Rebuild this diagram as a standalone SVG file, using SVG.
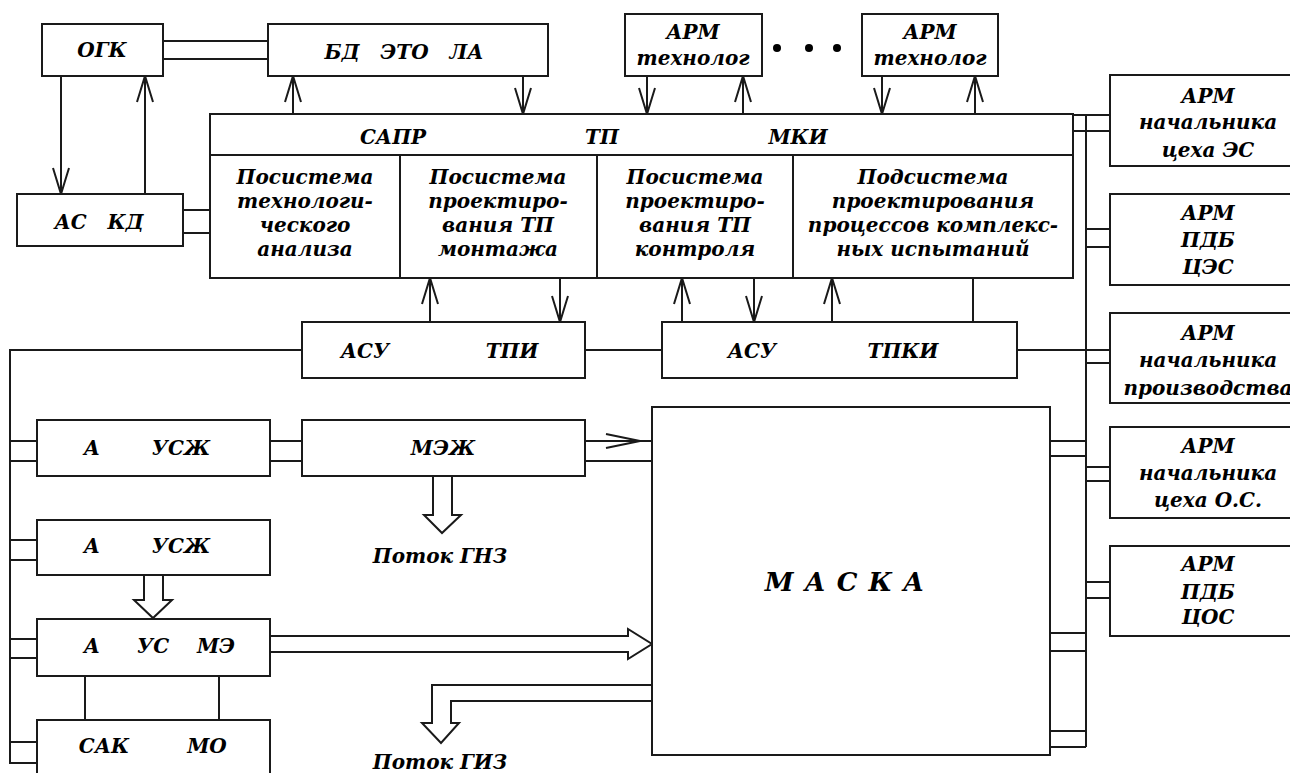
<svg xmlns="http://www.w3.org/2000/svg" width="1290" height="773" viewBox="0 0 1290 773">
<style>
.b{fill:#fff;stroke:#1a1a1a;stroke-width:2}
.l{fill:none;stroke:#1a1a1a;stroke-width:2}
.t{font-family:"DejaVu Serif","Liberation Serif",serif;font-weight:bold;font-style:italic;font-size:20px;fill:#000;text-anchor:middle}
.big{font-size:26px;letter-spacing:11px}
</style>
<defs>
<marker id="ah" markerUnits="userSpaceOnUse" markerWidth="40" markerHeight="30" viewBox="-30 -15 40 30" refX="0" refY="0" orient="auto" overflow="visible">
<path d="M-26,-8 L0,0 L-26,8" fill="none" stroke="#1a1a1a" stroke-width="2"/>
</marker>
</defs>
<rect width="1290" height="773" fill="#fff"/>
<g id="connectors">
<line class="l" x1="163" y1="41" x2="268" y2="41"/>
<line class="l" x1="163" y1="59" x2="268" y2="59"/>
<line class="l" x1="61" y1="76" x2="61" y2="194" marker-end="url(#ah)"/>
<line class="l" x1="145" y1="194" x2="145" y2="76" marker-end="url(#ah)"/>
<line class="l" x1="183" y1="210" x2="210" y2="210"/>
<line class="l" x1="183" y1="233" x2="210" y2="233"/>
<line class="l" x1="293" y1="114" x2="293" y2="76" marker-end="url(#ah)"/>
<line class="l" x1="523" y1="76" x2="523" y2="114" marker-end="url(#ah)"/>
<line class="l" x1="647" y1="76" x2="647" y2="114" marker-end="url(#ah)"/>
<line class="l" x1="743" y1="114" x2="743" y2="76" marker-end="url(#ah)"/>
<line class="l" x1="882" y1="76" x2="882" y2="114" marker-end="url(#ah)"/>
<line class="l" x1="975" y1="114" x2="975" y2="76" marker-end="url(#ah)"/>
<line class="l" x1="430" y1="322" x2="430" y2="278" marker-end="url(#ah)"/>
<line class="l" x1="560" y1="278" x2="560" y2="322" marker-end="url(#ah)"/>
<line class="l" x1="682" y1="322" x2="682" y2="278" marker-end="url(#ah)"/>
<line class="l" x1="754" y1="278" x2="754" y2="322" marker-end="url(#ah)"/>
<line class="l" x1="832" y1="322" x2="832" y2="278" marker-end="url(#ah)"/>
<line class="l" x1="973" y1="278" x2="973" y2="322"/>
<line class="l" x1="585" y1="350" x2="662" y2="350"/>
<polyline class="l" points="302,350 10,350 10,763 37,763"/>
<line class="l" x1="10" y1="441" x2="37" y2="441"/>
<line class="l" x1="10" y1="461" x2="37" y2="461"/>
<line class="l" x1="10" y1="540" x2="37" y2="540"/>
<line class="l" x1="10" y1="560" x2="37" y2="560"/>
<line class="l" x1="10" y1="639" x2="37" y2="639"/>
<line class="l" x1="10" y1="658" x2="37" y2="658"/>
<line class="l" x1="10" y1="742" x2="37" y2="742"/>
<line class="l" x1="270" y1="441" x2="302" y2="441"/>
<line class="l" x1="270" y1="461" x2="302" y2="461"/>
<line class="l" x1="585" y1="441" x2="652" y2="441"/>
<line class="l" x1="585" y1="461" x2="652" y2="461"/>
<polyline class="l" points="606,434 640,441 606,448"/>
<path class="l" d="M433,476 V515 H424 L442,533 L461,515 H452 V476"/>
<path class="l" d="M144,575 V600 H134 L153,618 L172,600 H163 V575"/>
<path class="l" d="M270,636 H628 V629 L652,644 L628,659 V652 H270"/>
<path class="l" d="M652,685 H432 V723 H422 L441,743 L459,723 H451 V701 H652"/>
<line class="l" x1="85" y1="676" x2="85" y2="720"/>
<line class="l" x1="219" y1="676" x2="219" y2="720"/>
<line class="l" x1="1086" y1="115" x2="1086" y2="747"/>
<line class="l" x1="1073" y1="115" x2="1110" y2="115"/>
<line class="l" x1="1073" y1="131" x2="1110" y2="131"/>
<line class="l" x1="1086" y1="229" x2="1110" y2="229"/>
<line class="l" x1="1086" y1="247" x2="1110" y2="247"/>
<line class="l" x1="1017" y1="350" x2="1110" y2="350"/>
<line class="l" x1="1086" y1="363" x2="1110" y2="363"/>
<line class="l" x1="1050" y1="441" x2="1086" y2="441"/>
<line class="l" x1="1050" y1="456" x2="1086" y2="456"/>
<line class="l" x1="1086" y1="467" x2="1110" y2="467"/>
<line class="l" x1="1086" y1="481" x2="1110" y2="481"/>
<line class="l" x1="1086" y1="582" x2="1110" y2="582"/>
<line class="l" x1="1086" y1="598" x2="1110" y2="598"/>
<line class="l" x1="1050" y1="633" x2="1086" y2="633"/>
<line class="l" x1="1050" y1="651" x2="1086" y2="651"/>
<line class="l" x1="1050" y1="731" x2="1086" y2="731"/>
<line class="l" x1="1050" y1="747" x2="1086" y2="747"/>
</g>
<g id="ogk"><rect class="b" x="42" y="24" width="121" height="52"/><text class="t" x="102" y="57">ОГК</text></g>
<g id="bd"><rect class="b" x="268" y="24" width="280" height="52"/><text class="t" x="404" y="59" xml:space="preserve">БД   ЭТО   ЛА</text></g>
<g id="askd"><rect class="b" x="17" y="194" width="166" height="52"/><text class="t" x="99" y="229" xml:space="preserve">АС   КД</text></g>
<g id="arm-tech1"><rect class="b" x="625" y="14" width="137" height="62"/><text class="t" x="693" y="39">АРМ</text><text class="t" x="693" y="65">технолог</text></g>
<g id="dots"><circle cx="777" cy="48" r="4" fill="#000"/><circle cx="809" cy="48" r="4" fill="#000"/><circle cx="837" cy="48" r="4" fill="#000"/></g>
<g id="arm-tech2"><rect class="b" x="862" y="14" width="136" height="62"/><text class="t" x="930" y="39">АРМ</text><text class="t" x="930" y="65">технолог</text></g>
<g id="sapr">
<rect class="b" x="210" y="114" width="863" height="164"/>
<line class="l" x1="210" y1="155" x2="1073" y2="155"/>
<line class="l" x1="400" y1="155" x2="400" y2="278"/>
<line class="l" x1="597" y1="155" x2="597" y2="278"/>
<line class="l" x1="793" y1="155" x2="793" y2="278"/>
<text class="t" x="393" y="144">САПР</text>
<text class="t" x="602" y="144">ТП</text>
<text class="t" x="798" y="144">МКИ</text>
<text class="t" x="305" y="184">Посистема</text>
<text class="t" x="305" y="208">технологи-</text>
<text class="t" x="305" y="232">ческого</text>
<text class="t" x="305" y="256">анализа</text>
<text class="t" x="498" y="184">Посистема</text>
<text class="t" x="498" y="208">проектиро-</text>
<text class="t" x="498" y="232">вания ТП</text>
<text class="t" x="498" y="256">монтажа</text>
<text class="t" x="695" y="184">Посистема</text>
<text class="t" x="695" y="208">проектиро-</text>
<text class="t" x="695" y="232">вания ТП</text>
<text class="t" x="695" y="256">контроля</text>
<text class="t" x="933" y="184">Подсистема</text>
<text class="t" x="933" y="208">проектирования</text>
<text class="t" x="933" y="232">процессов комплекс-</text>
<text class="t" x="933" y="256">ных испытаний</text>
</g>
<g id="asu-tpi"><rect class="b" x="302" y="322" width="283" height="56"/><text class="t" x="365" y="358">АСУ</text><text class="t" x="512" y="358">ТПИ</text></g>
<g id="asu-tpki"><rect class="b" x="662" y="322" width="355" height="56"/><text class="t" x="752" y="358">АСУ</text><text class="t" x="903" y="358">ТПКИ</text></g>
<g id="a-uszh1"><rect class="b" x="37" y="420" width="233" height="56"/><text class="t" x="92" y="455">А</text><text class="t" x="181" y="455">УСЖ</text></g>
<g id="mezh"><rect class="b" x="302" y="420" width="283" height="56"/><text class="t" x="443" y="455">МЭЖ</text></g>
<g id="a-uszh2"><rect class="b" x="37" y="520" width="233" height="55"/><text class="t" x="92" y="553">А</text><text class="t" x="181" y="553">УСЖ</text></g>
<g id="a-us-me"><rect class="b" x="37" y="619" width="233" height="57"/><text class="t" x="92" y="653">А</text><text class="t" x="153" y="653">УС</text><text class="t" x="216" y="653">МЭ</text></g>
<g id="sak-mo"><rect class="b" x="37" y="720" width="233" height="70"/><text class="t" x="104" y="753">САК</text><text class="t" x="207" y="753">МО</text></g>
<g id="potok-gnz"><text class="t" x="440" y="563">Поток ГНЗ</text></g>
<g id="potok-giz"><text class="t" x="440" y="769">Поток ГИЗ</text></g>
<g id="maska"><rect class="b" x="652" y="407" width="398" height="348"/><text class="t big" x="850" y="591">МАСКА</text></g>
<g id="arm-es"><rect class="b" x="1110" y="75" width="200" height="91"/><text class="t" x="1208" y="103">АРМ</text><text class="t" x="1208" y="129">начальника</text><text class="t" x="1208" y="157">цеха ЭС</text></g>
<g id="arm-pdb-ces"><rect class="b" x="1110" y="194" width="200" height="91"/><text class="t" x="1208" y="220">АРМ</text><text class="t" x="1208" y="247">ПДБ</text><text class="t" x="1208" y="274">ЦЭС</text></g>
<g id="arm-proizv"><rect class="b" x="1110" y="313" width="200" height="90"/><text class="t" x="1208" y="340">АРМ</text><text class="t" x="1208" y="367">начальника</text><text class="t" x="1208" y="395">производства</text></g>
<g id="arm-os"><rect class="b" x="1110" y="427" width="200" height="91"/><text class="t" x="1208" y="453">АРМ</text><text class="t" x="1208" y="480">начальника</text><text class="t" x="1208" y="507">цеха О.С.</text></g>
<g id="arm-pdb-cos"><rect class="b" x="1110" y="546" width="200" height="90"/><text class="t" x="1208" y="571">АРМ</text><text class="t" x="1208" y="599">ПДБ</text><text class="t" x="1208" y="624">ЦОС</text></g>
</svg>
